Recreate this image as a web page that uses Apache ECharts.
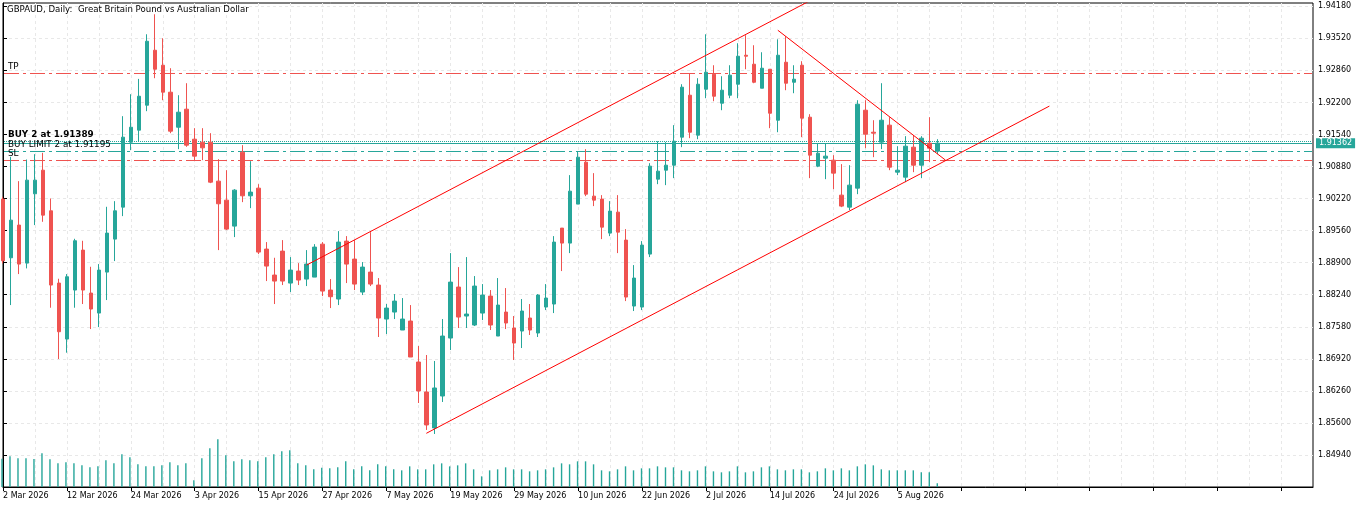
<!DOCTYPE html>
<html>
<head>
<meta charset="utf-8">
<script src="https://cdn.jsdelivr.net/npm/echarts@6/dist/echarts.min.js"></script>
<style>
html, body { margin: 0; padding: 0; background: #fff; }
#container { width: 1366px; height: 508px; }
</style>
</head>
<body>
<div id="container"></div>
<script>
// GBPAUD daily candles, 2 Mar 2026 .. 12 Aug 2026 (weekdays)
var openP = [
    1.90209, 1.89001, 1.89674, 1.88891, 1.90318, 1.90805, 1.89968, 1.88480, 1.87327, 1.88336,
    1.89159, 1.88274, 1.87862, 1.88706, 1.89385, 1.90044, 1.91382, 1.91629, 1.92143, 1.93275,
    1.92966, 1.92411, 1.91690, 1.92061, 1.91443, 1.91382, 1.91382, 1.90579, 1.90188, 1.89653,
    1.91176, 1.90277, 1.90435, 1.89180, 1.88645, 1.89138, 1.88480, 1.88727, 1.88562, 1.88603,
    1.89282, 1.88336, 1.88151, 1.89344, 1.88974, 1.88295, 1.88706, 1.88439, 1.87739, 1.87883,
    1.87513, 1.87698, 1.86854, 1.86237, 1.85496, 1.86154, 1.87348, 1.88398, 1.87801, 1.87616,
    1.87862, 1.88212, 1.87389, 1.87883, 1.87554, 1.87492, 1.87760, 1.87451, 1.87986, 1.88048,
    1.89612, 1.89303, 1.90106, 1.90970, 1.90270, 1.90209, 1.89509, 1.89941, 1.89365, 1.88007,
    1.87986, 1.89077, 1.90620, 1.90805, 1.90908, 1.91485, 1.92349, 1.91526, 1.92472, 1.92781,
    1.92184, 1.92349, 1.92575, 1.93172, 1.92987, 1.92493, 1.92884, 1.91834, 1.93028, 1.92616,
    1.92966, 1.91896, 1.90888, 1.91052, 1.91011, 1.90291, 1.90044, 1.90435, 1.92040, 1.91587,
    1.91382, 1.91732, 1.90764, 1.90661, 1.91279, 1.90908, 1.91361, 1.91196
];
var closeP = [
    1.88939, 1.89776, 1.88871, 1.90600, 1.90600, 1.89879, 1.88439, 1.87478, 1.88610, 1.89351,
    1.88336, 1.87945, 1.88747, 1.89509, 1.89968, 1.91485, 1.91690, 1.92328, 1.93460, 1.92884,
    1.92411, 1.91608, 1.91999, 1.91320, 1.91094, 1.91265, 1.90558, 1.90113, 1.89591, 1.90394,
    1.90277, 1.90353, 1.89118, 1.88830, 1.88521, 1.88521, 1.88747, 1.88542, 1.88871, 1.89221,
    1.88315, 1.88199, 1.89324, 1.88871, 1.88459, 1.88809, 1.88459, 1.87760, 1.87965, 1.88109,
    1.87739, 1.86957, 1.86257, 1.85558, 1.86319, 1.87389, 1.88500, 1.87780, 1.87842, 1.88418,
    1.88233, 1.87616, 1.88027, 1.87657, 1.87245, 1.87904, 1.87513, 1.88233, 1.88171, 1.89324,
    1.89303, 1.90373, 1.91073, 1.90311, 1.90188, 1.89632, 1.89962, 1.89529, 1.88192, 1.88583,
    1.89262, 1.90888, 1.90785, 1.90908, 1.91402, 1.92514, 1.91587, 1.92575, 1.92822, 1.92328,
    1.92452, 1.92761, 1.93152, 1.93152, 1.92616, 1.92905, 1.91978, 1.93172, 1.92596, 1.92678,
    1.91876, 1.91114, 1.91155, 1.91094, 1.90744, 1.90065, 1.90497, 1.92164, 1.91546, 1.91567,
    1.91834, 1.90867, 1.90805, 1.91299, 1.90908, 1.91464, 1.91258, 1.91362
];
var lowP = [
    1.88885, 1.88027, 1.88665, 1.88782, 1.89674, 1.89742, 1.87972, 1.86916, 1.87046, 1.87972,
    1.88048, 1.87533, 1.87574, 1.88130, 1.88933, 1.89859, 1.91217, 1.91402, 1.92020, 1.92699,
    1.92246, 1.91567, 1.91238, 1.91286, 1.91011, 1.91011, 1.90538, 1.89159, 1.89571, 1.89427,
    1.90147, 1.90023, 1.89077, 1.88521, 1.88048, 1.88439, 1.88295, 1.88439, 1.88418, 1.88603,
    1.88212, 1.87965, 1.88027, 1.88480, 1.88336, 1.88233, 1.88418, 1.87369, 1.87430, 1.87739,
    1.87513, 1.86957, 1.86010, 1.85455, 1.85372, 1.86031, 1.87101, 1.87554, 1.87554, 1.87595,
    1.87718, 1.87513, 1.87389, 1.87533, 1.86895, 1.87142, 1.87410, 1.87369, 1.87924, 1.87862,
    1.88727, 1.89097, 1.90106, 1.90270, 1.90065, 1.89385, 1.89447, 1.89097, 1.88109, 1.87904,
    1.87924, 1.89015, 1.90517, 1.90497, 1.90641, 1.91279, 1.91464, 1.91443, 1.92287, 1.92225,
    1.92040, 1.92287, 1.92287, 1.92884, 1.92596, 1.92493, 1.91670, 1.91587, 1.92452, 1.92390,
    1.91485, 1.90641, 1.90867, 1.90620, 1.90414, 1.90044, 1.89982, 1.90311, 1.91258, 1.91073,
    1.91238, 1.90805, 1.90703, 1.90558, 1.90764, 1.90641, 1.90970, 1.91135
];
var highP = [
    1.90257, 1.91080, 1.90579, 1.91025, 1.91135, 1.91162, 1.90222, 1.88569, 1.88665, 1.89392,
    1.89351, 1.88816, 1.88871, 1.90051, 1.90167, 1.91917, 1.92369, 1.92685, 1.93604, 1.94016,
    1.93522, 1.92905, 1.92349, 1.92596, 1.91670, 1.91670, 1.91567, 1.91032, 1.90805, 1.90414,
    1.91320, 1.90991, 1.90517, 1.89324, 1.89001, 1.89365, 1.89015, 1.88891, 1.89159, 1.89282,
    1.89324, 1.88562, 1.89550, 1.89447, 1.89365, 1.88912, 1.89529, 1.88583, 1.88048, 1.88253,
    1.88171, 1.88027, 1.87183, 1.86998, 1.86875, 1.87739, 1.89097, 1.88809, 1.89015, 1.88624,
    1.88459, 1.88336, 1.88583, 1.88377, 1.87801, 1.88151, 1.88048, 1.88253, 1.88459, 1.89447,
    1.89612, 1.90703, 1.91196, 1.91238, 1.90744, 1.90291, 1.90167, 1.90291, 1.89591, 1.88850,
    1.89344, 1.90949, 1.91402, 1.91382, 1.91732, 1.92575, 1.92802, 1.92699, 1.93604, 1.92966,
    1.92740, 1.92966, 1.93419, 1.93584, 1.93378, 1.93234, 1.92884, 1.93501, 1.93563, 1.92966,
    1.93049, 1.91958, 1.91361, 1.91361, 1.91114, 1.90929, 1.90908, 1.92246, 1.92246, 1.91834,
    1.92596, 1.91896, 1.91299, 1.91505, 1.91526, 1.91505, 1.91896, 1.91443
];
// tick volume, thousands
var tickVolume = [
    85, 92, 86, 86, 84, 101, 83, 71, 74, 71,
    65, 59, 62, 80, 71, 98, 89, 68, 62, 62,
    65, 74, 65, 71, 20, 86, 116, 143, 95, 77,
    83, 80, 77, 89, 98, 107, 110, 71, 65, 53,
    58, 56, 59, 77, 53, 62, 50, 68, 62, 53,
    50, 62, 53, 53, 68, 71, 62, 65, 71, 53,
    32, 50, 53, 59, 53, 53, 47, 50, 53, 59,
    71, 68, 77, 77, 68, 50, 47, 53, 62, 50,
    56, 56, 62, 59, 59, 50, 47, 50, 62, 47,
    44, 47, 62, 44, 47, 59, 62, 53, 50, 53,
    53, 44, 47, 56, 50, 56, 50, 62, 68, 65,
    53, 50, 50, 50, 50, 44, 44, 11
];
// order levels drawn as horizontal lines
var levelNames = ['TP', 'BUY 2 at 1.91389', 'BUY LIMIT 2 at 1.91195', 'SL'];
var levelPrices = [1.92795, 1.91389, 1.91195, 1.91003];
var bidPrice = 1.91362;
// trend lines: [bar index, price] pairs
var channelTop = [[38, 1.88850], [104, 1.94552]];
var channelBottom = [[53, 1.85386], [131, 1.92125]];
var downLine = [[97, 1.93687], [118, 1.91011]];
// price axis ticks
var priceMin = 1.84280, priceMax = 1.94248, priceStep = 0.0066;
var barsShown = 164;

var months = ['Jan', 'Feb', 'Mar', 'Apr', 'May', 'Jun', 'Jul', 'Aug', 'Sep', 'Oct', 'Nov', 'Dec'];
var dates = [];
var d = new Date(Date.UTC(2026, 2, 2));
while (dates.length < openP.length) {
    var wd = d.getUTCDay();
    if (wd !== 0 && wd !== 6) {
        dates.push(d.getUTCDate() + ' ' + months[d.getUTCMonth()] + ' ' + d.getUTCFullYear());
    }
    d.setUTCDate(d.getUTCDate() + 1);
}

var UP = '#26a69a', DOWN = '#ef5350', FONT = 'DejaVu Sans';
var candles = [], vols = [];
for (var i = 0; i < openP.length; i++) {
    candles.push([i, openP[i], closeP[i], lowP[i], highP[i]]);
    vols.push([i, tickVolume[i]]);
}

var dom = document.getElementById('container');
var myChart = echarts.init(dom);
var gridLine = {
    show: true, showMinLine: false, showMaxLine: false,
    lineStyle: {color: '#e8e8e8', type: [3, 3], width: 1}
};
var dashDot = [15, 4, 3, 4];

function trend(pts) {
    return {
        type: 'line', data: pts, xAxisIndex: 0, yAxisIndex: 0,
        symbol: 'none', clip: true, silent: true,
        color: '#ff0000', lineStyle: {color: '#ff0000', width: 1}, z: 5
    };
}

var option = {
    animation: false,
    backgroundColor: '#fff',
    grid: [
        {left: 2, right: 53, top: 3, bottom: 21, show: true, borderColor: '#000', borderWidth: 1},
        {left: 2, right: 53, bottom: 21, height: 100}
    ],
    xAxis: [{
        type: 'value', gridIndex: 0, min: 0, max: barsShown, interval: 8,
        axisLine: {show: true, lineStyle: {color: '#000'}},
        axisTick: {show: true, length: 4, lineStyle: {color: '#000'}},
        axisLabel: {
            color: '#000', fontSize: 8, fontFamily: FONT, align: 'left', margin: 5,
            showMaxLabel: false,
            formatter: function (v) { return dates[v] || ''; }
        },
        splitLine: gridLine,
        minorTick: {show: false, splitNumber: 2},
        minorSplitLine: gridLine
    }, {
        type: 'value', gridIndex: 1, min: 0, max: barsShown, show: false
    }],
    yAxis: [{
        type: 'value', gridIndex: 0, position: 'right',
        min: priceMin, max: priceMax, interval: priceStep,
        axisLine: {show: true, lineStyle: {color: '#000'}},
        axisTick: {show: true, length: 4, lineStyle: {color: '#000'}},
        axisLabel: {
            color: '#000', fontSize: 8, fontFamily: FONT, margin: 5,
            showMinLabel: false, showMaxLabel: false,
            formatter: function (v) { return v.toFixed(5); }
        },
        splitLine: gridLine
    }, {
        type: 'value', gridIndex: 1, min: 0, max: 300, show: false
    }],
    series: [{
        type: 'bar', name: 'Volume', xAxisIndex: 1, yAxisIndex: 1,
        data: vols, barWidth: 1.4, itemStyle: {color: UP}, silent: true
    }, {
        type: 'candlestick', name: 'GBPAUD', xAxisIndex: 0, yAxisIndex: 0,
        data: candles, barWidth: 4,
        encode: {x: 0, y: [1, 2, 3, 4]},
        itemStyle: {color: UP, color0: DOWN, borderColor: UP, borderColor0: DOWN, borderWidth: 1},
        z: 4
    },
        trend(channelTop),
        trend(channelBottom),
        trend(downLine)
    ]
};

myChart.setOption(option);

// order lines, their labels, title and the last price tag, placed from the axes
function snap(v) { return Math.round(v - 0.5) + 0.5; }
var leftX = myChart.convertToPixel({xAxisIndex: 0}, 0);
var rightX = myChart.convertToPixel({xAxisIndex: 0}, barsShown);
var levelColors = [DOWN, UP, UP, DOWN];
var levelDash = [dashDot, [1, 1], dashDot, dashDot];

var els = [{
    type: 'text', left: 7, top: 5, z: 10,
    style: {text: 'GBPAUD, Daily:  Great Britain Pound vs Australian Dollar', fontSize: 8.6, fontFamily: FONT, fill: '#000'}
}];
function hline(price, color, dash) {
    var y = snap(myChart.convertToPixel({yAxisIndex: 0}, price));
    els.push({
        type: 'line', silent: true, z: 1,
        shape: {x1: leftX + 1, y1: y, x2: rightX - 1, y2: y},
        style: {stroke: color, lineWidth: 1, lineDash: dash}
    });
    return y;
}
hline(bidPrice, UP, null);
levelPrices.forEach(function (p, k) {
    var y = hline(p, levelColors[k], levelDash[k]);
    els.push({
        type: 'text', x: leftX + 5, y: y - 11.5, z: 10,
        style: {
            text: levelNames[k], fontSize: 8.8, fontFamily: FONT, fill: '#000',
            fontWeight: k === 1 ? 'bold' : 'normal'
        }
    });
});
var tagY = myChart.convertToPixel({yAxisIndex: 0}, bidPrice);
els.push({
    type: 'text', x: rightX + 3, y: tagY - 5, z: 10,
    style: {
        text: bidPrice.toFixed(5), fontSize: 8, fontFamily: FONT, fill: '#fff',
        backgroundColor: UP, padding: [1, 3, 1, 3], lineHeight: 8
    }
});
myChart.setOption({graphic: els});
</script>
</body>
</html>
